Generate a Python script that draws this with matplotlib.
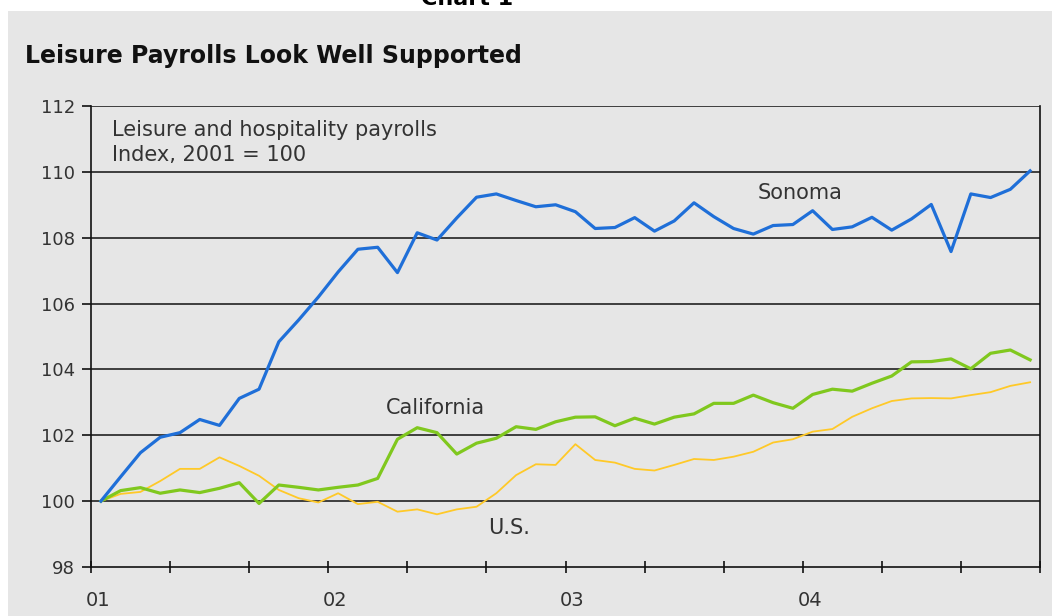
import numpy as np
import matplotlib.pyplot as plt
from matplotlib.patches import Rectangle

plt.rcParams['font.family'] = ['DejaVu Sans']

# monthly index, Jan 2001 .. Dec 2004 (2001 = 100)
sonoma = [100.0, 100.74, 101.47, 101.94, 102.08, 102.48, 102.30, 103.12, 103.40, 104.84,
          105.5, 106.2, 106.96, 107.65, 107.71, 106.94, 108.15, 107.93, 108.6, 109.23,
          109.33, 109.13, 108.94, 109.00, 108.79, 108.28, 108.31, 108.61, 108.20, 108.51,
          109.06, 108.64, 108.28, 108.11, 108.37, 108.40, 108.82, 108.25, 108.33, 108.62,
          108.23, 108.57, 109.01, 107.58, 109.33, 109.22, 109.47, 110.03]
california = [100.0, 100.32, 100.41, 100.24, 100.34, 100.26, 100.39, 100.56, 99.93, 100.49,
              100.42, 100.34, 100.42, 100.49, 100.69, 101.88, 102.23, 102.08, 101.43, 101.76,
              101.91, 102.26, 102.18, 102.41, 102.55, 102.56, 102.29, 102.52, 102.34, 102.55,
              102.65, 102.97, 102.97, 103.22, 102.99, 102.82, 103.24, 103.40, 103.34, 103.58,
              103.80, 104.23, 104.24, 104.32, 104.02, 104.49, 104.59, 104.29]
us = [100.0, 100.22, 100.28, 100.61, 100.98, 100.98, 101.33, 101.07, 100.77, 100.34,
      100.09, 99.96, 100.24, 99.91, 99.98, 99.68, 99.75, 99.60, 99.75, 99.83,
      100.24, 100.79, 101.12, 101.10, 101.73, 101.25, 101.17, 100.98, 100.93, 101.10,
      101.28, 101.25, 101.35, 101.50, 101.78, 101.88, 102.11, 102.19, 102.56, 102.82,
      103.04, 103.12, 103.13, 103.12, 103.22, 103.31, 103.50, 103.61]
year_labels = ['01', '02', '03', '04']
y_ticks = [98, 100, 102, 104, 106, 108, 110, 112]

months = np.arange(len(sonoma)) + 0.5

fig = plt.figure(figsize=(10.52, 6.16), dpi=100)
fig.patches.append(Rectangle((8 / 1052, 0), 1, 1 - 11 / 616, transform=fig.transFigure,
                             facecolor='#e6e6e6', edgecolor='none', zorder=-10))
fig.text(467 / 1052, 1 - 5 / 616, 'Chart 1', ha='center', va='baseline',
         fontsize=16, fontweight='bold', color='#000000')
fig.text(25 / 1052, 1 - 63 / 616, 'Leisure Payrolls Look Well Supported', ha='left', va='baseline',
         fontsize=17, fontweight='bold', color='#111111')

ax = fig.add_axes([91 / 1052, 49 / 616, 949 / 1052, 461 / 616])
ax.set_facecolor('none')

ax.plot(months, us, color='#ffc928', lw=1.3, zorder=3)
ax.plot(months, california, color='#80c81e', lw=2.3, zorder=4)
ax.plot(months, sonoma, color='#1f6fd8', lw=2.3, zorder=5)

ax.set_xlim(0, 48)
ax.set_ylim(98, 112)
ax.set_yticks(y_ticks)
ax.set_yticklabels([str(v) for v in y_ticks])
for v in y_ticks[1:]:
    ax.axhline(v, color='#111111', lw=1.1, zorder=1)

ax.set_xticks(np.arange(0, 49, 4))
ax.set_xticklabels([])
ax.set_xticks(np.arange(len(year_labels)) * 12 + 0.35, minor=True)
ax.set_xticklabels(year_labels, minor=True)
ax.tick_params(axis='x', which='major', direction='inout', length=9, width=1.2, color='#111111')
ax.tick_params(axis='x', which='minor', length=0, pad=17, labelsize=14, labelcolor='#333333')
ax.tick_params(axis='y', direction='out', length=6.5, width=1.2, color='#111111',
               labelsize=13, labelcolor='#333333', pad=5)

for s in ['left', 'right', 'bottom']:
    ax.spines[s].set_color('#111111')
    ax.spines[s].set_linewidth(1.2)
ax.spines['top'].set_visible(False)

note_kw = dict(fontsize=15, color='#333333', ha='left', va='center')
ax.text(1.05, 111.27, 'Leisure and hospitality payrolls', **note_kw)
ax.text(1.05, 110.51, 'Index, 2001 = 100', **note_kw)
ax.text(33.7, 109.36, 'Sonoma', **note_kw)
ax.text(14.9, 102.83, 'California', **note_kw)
ax.text(20.1, 99.18, 'U.S.', **note_kw)

fig.savefig('out.png', dpi=100, facecolor='white')
